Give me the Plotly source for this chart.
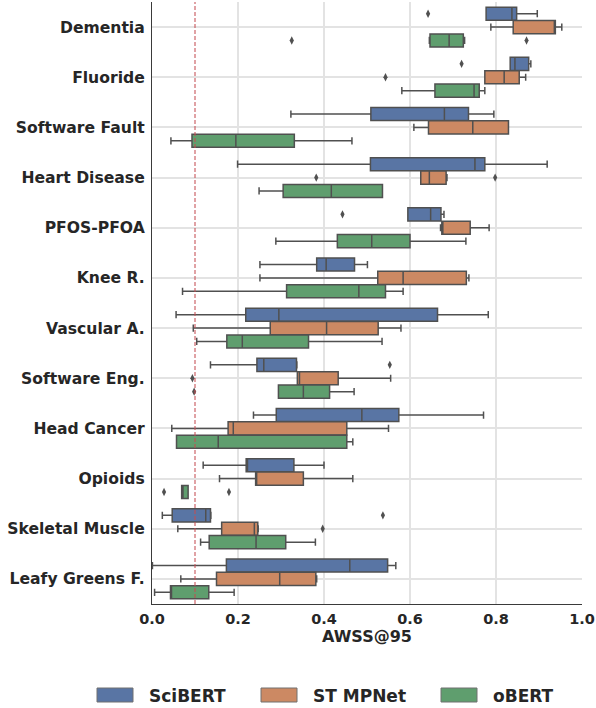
import plotly.graph_objects as go

categories = ["Dementia", "Fluoride", "Software Fault", "Heart Disease", "PFOS-PFOA",
              "Knee R.", "Vascular A.", "Software Eng.", "Head Cancer", "Opioids",
              "Skeletal Muscle", "Leafy Greens F."]
models = ["SciBERT", "ST MPNet", "oBERT"]

# SciBERT box statistics
sci_q1 = [0.777, 0.833, 0.509, 0.508, 0.595, 0.383, 0.218, 0.244, 0.289, 0.219, 0.047, 0.173]
sci_med = [0.837, 0.844, 0.680, 0.751, 0.648, 0.405, 0.295, 0.260, 0.488, 0.222, 0.125, 0.460]
sci_q3 = [0.848, 0.876, 0.736, 0.774, 0.672, 0.471, 0.664, 0.336, 0.574, 0.330, 0.136, 0.548]
sci_lo = [0.777, 0.833, 0.323, 0.199, 0.595, 0.251, 0.056, 0.136, 0.236, 0.119, 0.024, 0.001]
sci_hi = [0.896, 0.881, 0.795, 0.919, 0.679, 0.501, 0.782, 0.337, 0.771, 0.400, 0.137, 0.567]
sci_out_cat = ["Dementia", "Fluoride", "PFOS-PFOA", "Software Eng.", "Skeletal Muscle"]
sci_out_val = [0.642, 0.720, 0.443, 0.553, 0.537]

# ST MPNet box statistics
st_q1 = [0.840, 0.774, 0.643, 0.625, 0.674, 0.525, 0.275, 0.338, 0.177, 0.241, 0.162, 0.150]
st_med = [0.936, 0.819, 0.746, 0.645, 0.676, 0.584, 0.406, 0.343, 0.189, 0.243, 0.238, 0.297]
st_q3 = [0.938, 0.854, 0.829, 0.684, 0.740, 0.731, 0.526, 0.433, 0.453, 0.352, 0.246, 0.381]
st_lo = [0.788, 0.774, 0.609, 0.625, 0.671, 0.251, 0.096, 0.338, 0.046, 0.157, 0.060, 0.067]
st_hi = [0.953, 0.869, 0.829, 0.686, 0.784, 0.737, 0.579, 0.555, 0.550, 0.467, 0.247, 0.383]
st_out_cat = ["Fluoride", "Heart Disease", "Heart Disease", "Software Eng.", "Skeletal Muscle"]
st_out_val = [0.543, 0.382, 0.798, 0.094, 0.397]

# oBERT box statistics
ob_q1 = [0.6465, 0.658, 0.093, 0.305, 0.431, 0.313, 0.174, 0.294, 0.057, 0.069, 0.133, 0.043]
ob_med = [0.691, 0.749, 0.195, 0.417, 0.511, 0.481, 0.210, 0.352, 0.154, 0.072, 0.242, 0.045]
ob_q3 = [0.724, 0.761, 0.331, 0.536, 0.600, 0.543, 0.364, 0.413, 0.453, 0.084, 0.311, 0.132]
ob_lo = [0.645, 0.581, 0.044, 0.249, 0.288, 0.071, 0.104, 0.294, 0.057, 0.069, 0.113, 0.006]
ob_hi = [0.727, 0.774, 0.465, 0.536, 0.730, 0.584, 0.535, 0.470, 0.467, 0.084, 0.380, 0.191]
ob_out_cat = ["Dementia", "Dementia", "Software Eng.", "Opioids", "Opioids"]
ob_out_val = [0.325, 0.871, 0.098, 0.028, 0.179]

threshold = 0.1
x_ticks = [0.0, 0.2, 0.4, 0.6, 0.8, 1.0]

colors = ["#5975a4", "#cc8963", "#5f9e6e"]
edge = "#505050"
txt = "#262626"
FONT = "DejaVu Sans"

W, H = 596, 708
L, R, T, B = 152, 14, 2, 104
PW, PH = W - L - R, H - T - B

def px_x(px):
    return (px - L) / PW

def px_y(py):
    return (H - B - py) / PH

stats = [
    (sci_q1, sci_med, sci_q3, sci_lo, sci_hi, sci_out_cat, sci_out_val),
    (st_q1, st_med, st_q3, st_lo, st_hi, st_out_cat, st_out_val),
    (ob_q1, ob_med, ob_q3, ob_lo, ob_hi, ob_out_cat, ob_out_val),
]
n_h = len(models)
slot = 0.8 / n_h
offsets = [(k - (n_h - 1) / 2) * slot for k in range(n_h)]

fig = go.Figure()
for k, (q1, med, q3, lo, hi, oc, ov) in enumerate(stats):
    pos = [i + offsets[k] for i in range(len(categories))]
    fig.add_trace(go.Box(
        y=pos, q1=q1, median=med, q3=q3, lowerfence=lo, upperfence=hi,
        orientation="h", width=slot * 0.98, fillcolor=colors[k],
        line=dict(color=edge, width=1.5), whiskerwidth=0.55,
        boxpoints=False, name=models[k], showlegend=False, hoverinfo="skip"))
    fig.add_trace(go.Scatter(
        x=ov, y=[categories.index(c) + offsets[k] for c in oc], mode="markers",
        marker=dict(symbol="diamond-tall", size=6, color=edge),
        showlegend=False, hoverinfo="skip"))

shapes = [dict(type="line", xref="x", yref="paper", x0=threshold, x1=threshold, y0=0, y1=1,
               line=dict(color="rgba(196,78,82,0.8)", width=1.3, dash="4px,2px"), layer="above")]
annotations = []
leg_patch_x = [97, 261, 441]
leg_text_x = [147, 310.5, 490.5]
for k, m in enumerate(models):
    shapes.append(dict(type="rect", xref="paper", yref="paper",
                       x0=px_x(leg_patch_x[k]), x1=px_x(leg_patch_x[k] + 36),
                       y0=px_y(702), y1=px_y(688),
                       fillcolor=colors[k], line=dict(color="#707070", width=1)))
    annotations.append(dict(xref="paper", yref="paper", x=px_x(leg_text_x[k]), y=px_y(695.5),
                            text=m, showarrow=False, xanchor="left", yanchor="middle",
                            font=dict(family=FONT, size=17, color=txt, weight="bold")))

fig.update_layout(
    width=W, height=H, margin=dict(l=L, r=R, t=T, b=B, autoexpand=False),
    plot_bgcolor="white", paper_bgcolor="white", boxmode="overlay",
    shapes=shapes, annotations=annotations, showlegend=False,
    xaxis=dict(range=[0, 1.0], tickvals=x_ticks, tickformat=".1f",
               showgrid=True, gridcolor="#e3e3e3", gridwidth=1.6, zeroline=False,
               showline=True, linecolor="#3a3a3a", linewidth=1.3, ticks="",
               ticklabelstandoff=1, automargin=False,
               tickfont=dict(family=FONT, size=14.5, color=txt, weight="bold"),
               title=dict(text="AWSS@95", standoff=2,
                          font=dict(family=FONT, size=16, color=txt, weight="bold"))),
    yaxis=dict(range=[len(categories) - 0.5, -0.5], tickvals=list(range(len(categories))),
               ticktext=categories, showgrid=True, gridcolor="#e3e3e3", gridwidth=1.6,
               zeroline=False, showline=True, linecolor="#3a3a3a", linewidth=1.3,
               ticks="", ticklabelstandoff=3, automargin=False,
               tickfont=dict(family=FONT, size=15.6, color=txt, weight="bold")),
)

fig.write_html("out.html")
